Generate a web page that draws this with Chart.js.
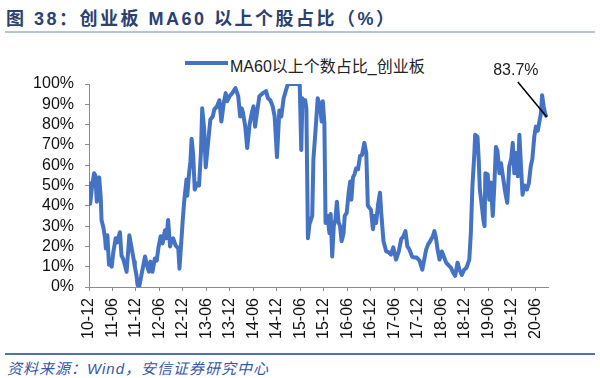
<!DOCTYPE html>
<html><head><meta charset="utf-8">
<script src="https://cdn.jsdelivr.net/npm/chart.js@4/dist/chart.umd.min.js"></script>
<style>
body{margin:0;width:600px;height:378px;position:relative;background:#fff;overflow:hidden;font-family:"Liberation Sans","Noto Sans CJK SC",sans-serif}
#title{position:absolute;left:6px;top:4px;font-weight:bold;font-size:18px;letter-spacing:2.5px;color:#2B4170;white-space:nowrap;font-family:"Liberation Sans","Noto Sans CJK SC",sans-serif}
#tline{position:absolute;left:5px;top:31px;width:590px;height:2px;background:#B4C3E0}
#bline{position:absolute;left:5px;top:353px;width:590px;height:1.5px;background:#4F72B8}
#src{position:absolute;left:7px;top:357px;font-size:15px;font-style:italic;letter-spacing:1px;color:#3558A8;white-space:nowrap}
#leg{position:absolute;left:185px;top:61px;width:43px;height:4px;background:#4472C4}
#legt{position:absolute;left:230px;top:53px;font-size:16px;color:#222;white-space:nowrap}
#wrap{position:absolute;left:0;top:40px;width:600px;height:312px}
</style></head>
<body>
<div id="title">图 38：创业板 MA60 以上个股占比（%）</div>
<div id="tline"></div>
<div id="leg"></div><div id="legt">MA60以上个数占比_创业板</div>
<div id="wrap"><canvas id="c"></canvas></div>
<div id="bline"></div>
<div id="src">资料来源：Wind，安信证券研究中心</div>
<script>
const seriesName = "MA60以上个数占比_创业板";
const tickLabels = ["10-12","11-06","11-12","12-06","12-12","13-06","13-12","14-06","14-12","15-06","15-12","16-06","16-12","17-06","17-12","18-06","18-12","19-06","19-12","20-06"];
// months elapsed since 2010-12
const months = [0,0.3,0.8,1.3,1.6,2.0,2.3,2.6,3.0,3.2,3.7,4.1,4.3,4.7,5.1,5.5,5.8,6.2,6.8,7.2,7.6,7.9,8.3,8.7,9.0,9.6,10.3,10.9,11.5,11.7,12.1,12.4,12.8,13.4,13.9,14.3,14.9,15.3,15.7,16.2,16.8,17.3,17.7,18.3,18.8,19.4,19.8,20.2,20.7,21.1,21.5,22.1,22.8,23.1,23.9,24.3,24.9,25.1,25.5,25.9,26.2,26.6,27.0,27.6,28.1,28.6,28.9,29.4,29.8,30.4,31.0,31.6,32.0,32.7,33.3,33.8,34.4,34.9,35.3,35.9,36.6,37.4,38.1,38.6,39.0,39.3,39.9,40.4,41.0,41.6,42.0,42.4,42.9,43.5,44.4,45.2,45.7,46.3,46.9,47.4,48.0,48.6,49.1,49.7,50.3,50.8,53.8,54.2,54.5,54.9,55.2,55.5,55.9,56.3,57.0,57.3,57.8,58.4,59.0,59.4,59.7,60.1,60.4,60.9,61.4,61.7,62.1,62.5,62.9,63.3,63.7,64.1,64.5,65.0,65.3,65.8,66.3,66.7,67.0,67.4,67.8,68.2,68.7,69.2,69.7,70.3,70.8,71.2,71.6,72.0,72.5,72.9,73.3,73.8,74.3,74.6,75.2,75.9,76.6,77.1,77.7,78.4,79.1,79.7,80.3,80.8,81.3,81.8,82.5,83.1,83.7,84.4,85.1,85.6,86.1,86.6,87.1,87.8,88.2,88.6,89.0,89.5,90.1,90.6,91.2,91.9,92.4,93.0,93.5,94.1,94.6,95.2,95.8,96.4,97.1,97.5,97.9,98.4,98.6,99.2,99.5,99.8,100.3,100.7,101.0,101.2,101.8,102.2,102.6,103.1,103.5,103.9,104.3,104.8,105.2,105.8,106.3,106.8,107.3,107.8,108.2,108.6,109.0,109.5,109.9,110.3,110.7,111.2,111.8,112.3,112.8,113.2,113.7,114.1,114.6,115.0,115.4,115.7,116.1,116.5,116.9];
const values = [52,41,50,56,55,42,50,54,44,33,29,24,19,25.5,11,12,10,17,24,22,25,27,15.5,14,12,7.5,25.5,19,12.5,10,6,1,0,6,11,15,10,7.5,12.5,7.5,14,13,19,25,21.5,28,24,33,20,23,24,20.5,19,9,32,42,53,45,55,62,73,65,48,51,50,67,88,78,59,71,82.5,84,87.5,89,92,81.5,90.5,95.5,91.5,94,95.5,98,94,84,88,86,79,68.5,80,86,89,79,86,94,95.5,96.5,93,92,89,84,64,87,84,93,97,100,100,67.5,93,90,92,88,24,31,35,63,76,93,89,81.5,91.5,81,31.5,35,26.5,36,15,30,33,42,32,30,22.5,26.5,35,36.5,46.5,52,43,54,55.5,58.5,58,64.5,65,71,66,40,39,38,28.5,35,31.5,40.5,46.5,37,22.5,17.5,17,16,19.5,13.5,17.5,23.5,25,27.5,20,18.5,15,14.5,14.5,13,8.5,13.5,18.5,21,22.5,25,27.5,24,18.5,13.5,17.5,15,12,10.5,9.5,7,5.5,12,8.5,6,8.5,9.5,13.5,26.5,49.5,66,75,74,63,48,40,33,30,56,55.5,43,51.5,35,50,69,67,56,61,53,46.5,41.5,59.5,63,71,56,66,54.5,75,59.5,45.5,50,48,51,59.5,63,74,79,77,81.5,85.5,94.5,89,85,83.7];
const yTicks = [0,10,20,30,40,50,60,70,80,90,100];
const annotationText = "83.7%";

const pts = months.map((m,i)=>({x:m,y:values[i]}));
const axisFont = {family:'"Liberation Sans", Arial, sans-serif', size:16};

const annot = {
  id:'annot',
  afterDatasetsDraw(chart){
    const meta = chart.getDatasetMeta(0);
    const p = meta.data[meta.data.length-1];
    const ctx = chart.ctx;
    ctx.save();
    ctx.strokeStyle = '#000'; ctx.lineWidth = 1.5;
    ctx.beginPath(); ctx.moveTo(p.x-29, p.y-35); ctx.lineTo(p.x, p.y); ctx.stroke();
    ctx.fillStyle = '#222';
    ctx.font = '16px "Liberation Sans", Arial, sans-serif';
    ctx.textAlign = 'center'; ctx.textBaseline = 'middle';
    ctx.fillText(annotationText, p.x-31, p.y-46);
    ctx.restore();
  }
};

new Chart(document.getElementById('c'), {
  type:'line',
  data:{datasets:[{label:seriesName,data:pts,borderColor:'#4472C4',backgroundColor:'#4472C4',borderWidth:4,pointRadius:0,tension:0,borderJoinStyle:'round'}]},
  options:{
    responsive:true, maintainAspectRatio:false, animation:false,
    layout:{padding:{top:44,right:52,left:0,bottom:0}},
    plugins:{legend:{display:false},tooltip:{enabled:false}},
    scales:{
      x:{type:'linear',min:0,max:117.2,
        afterFit(s){s.height=65;},
        grid:{drawOnChartArea:false,drawTicks:true,tickLength:4,color:'#8C8C8C'},
        border:{display:true,color:'#8C8C8C',width:1},
        ticks:{stepSize:6,includeBounds:false,autoSkip:false,maxRotation:90,minRotation:90,padding:7,color:'#111',font:axisFont,
          callback(v){const i=Math.round(v/6);return (Math.abs(v-i*6)<1e-6 && i<tickLabels.length)?tickLabels[i]:null;}}
      },
      y:{min:0,max:100,
        afterFit(s){s.width=89;},
        afterBuildTicks(s){s.ticks=yTicks.map(v=>({value:v}));},
        grid:{drawOnChartArea:false,drawTicks:true,tickLength:4,color:'#8C8C8C'},
        border:{display:true,color:'#8C8C8C',width:1},
        ticks:{autoSkip:false,padding:11,color:'#111',font:axisFont,callback(v){return v+'%';}}
      }
    }
  },
  plugins:[annot]
});
</script>
</body></html>
